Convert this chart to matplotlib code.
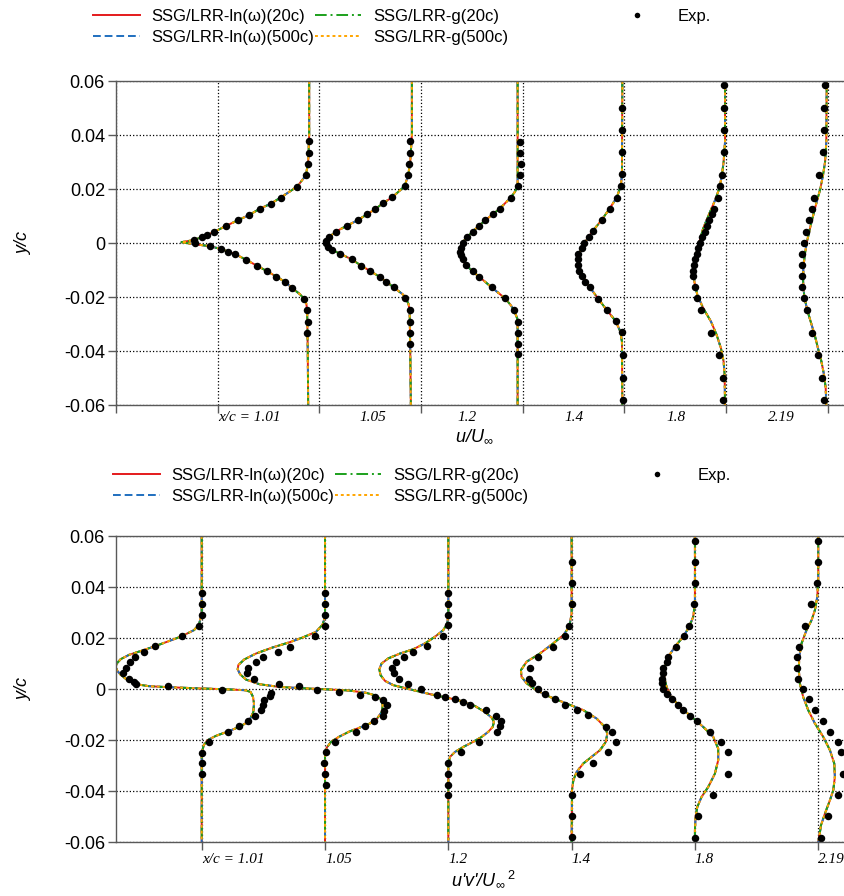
import numpy as np
import matplotlib.pyplot as plt
from matplotlib.lines import Line2D

plt.rcParams['font.family'] = ['Liberation Sans', 'DejaVu Sans']
plt.rcParams['mathtext.fontset'] = 'custom'
plt.rcParams['mathtext.rm'] = 'Liberation Sans'
plt.rcParams['mathtext.it'] = 'Liberation Sans:italic'

stations = ['x/c = 1.01', '1.05', '1.2', '1.4', '1.8', '2.19']

# ---------------- top panel: u/U_inf profiles ----------------
u_base = [1.90, 2.91, 3.95, 4.98, 5.99, 6.99]   # grid position of u/U_inf = 1
u_label_pos = [1.31, 2.53, 3.45, 4.50, 5.51, 6.54]

u_cfd_101_y = [0.06, 0.04, 0.030, 0.0251, 0.0209, 0.0168, 0.0146, 0.0127, 0.0104, 0.0084, 0.0063, 0.0041, 0.0021,
               0.0010, 0.0003, -0.0004, -0.0011, -0.0022, -0.0032, -0.0041, -0.0062, -0.0084, -0.0105, -0.0125,
               -0.0144, -0.0168, -0.0190, -0.0207, -0.0225, -0.0249, -0.03, -0.04, -0.06]
u_cfd_101 = [1.0, 1.0, 0.995, 0.984, 0.941, 0.859, 0.812, 0.758, 0.705, 0.649, 0.590, 0.533, 0.471,
             0.425, 0.372, 0.430, 0.505, 0.566, 0.602, 0.636, 0.689, 0.743, 0.794, 0.840,
             0.881, 0.918, 0.955, 0.975, 0.986, 0.990, 0.991, 0.993, 0.995]
u_exp_101_y = [0.0377, 0.0334, 0.0293, 0.0251, 0.0209, 0.0168, 0.0146, 0.0127, 0.0104, 0.0084, 0.0063, 0.0041,
               0.0031, 0.0021, 0.0011, -0.0001, -0.0011, -0.0022, -0.0032, -0.0041, -0.0062, -0.0084, -0.0105,
               -0.0125, -0.0144, -0.0168, -0.0207, -0.0249, -0.0291, -0.0333]
u_exp_101 = [0.999, 0.999, 0.992, 0.984, 0.941, 0.859, 0.812, 0.758, 0.705, 0.649, 0.590, 0.533,
             0.499, 0.471, 0.435, 0.438, 0.512, 0.566, 0.602, 0.636, 0.689, 0.743, 0.794,
             0.839, 0.881, 0.916, 0.974, 0.990, 0.992, 0.990]

u_cfd_105_y = [0.06, 0.04, 0.030, 0.0252, 0.0210, 0.0169, 0.0147, 0.0126, 0.0106, 0.0084, 0.0064, 0.0042, 0.0022,
               0.0009, -0.0003, -0.0015, -0.0025, -0.0040, -0.0061, -0.0084, -0.0104, -0.0125, -0.0143, -0.0164,
               -0.0190, -0.0205, -0.0225, -0.0249, -0.03, -0.04, -0.06]
u_cfd_105 = [1.0, 1.0, 0.992, 0.982, 0.964, 0.903, 0.857, 0.821, 0.779, 0.733, 0.680, 0.626, 0.593,
             0.577, 0.572, 0.589, 0.605, 0.648, 0.705, 0.751, 0.795, 0.841, 0.874, 0.910,
             0.955, 0.970, 0.983, 0.989, 0.990, 0.992, 0.995]
u_exp_105_y = [0.0378, 0.0333, 0.0291, 0.0252, 0.0210, 0.0169, 0.0147, 0.0126, 0.0106, 0.0084, 0.0064, 0.0042,
               0.0022, 0.0009, -0.0001, -0.0015, -0.0025, -0.0040, -0.0061, -0.0084, -0.0104, -0.0125, -0.0143,
               -0.0164, -0.0205, -0.0249, -0.0291, -0.0332, -0.0373]
u_exp_105 = [0.989, 0.989, 0.985, 0.982, 0.964, 0.903, 0.857, 0.821, 0.779, 0.733, 0.680, 0.626,
             0.593, 0.577, 0.579, 0.589, 0.605, 0.648, 0.705, 0.751, 0.795, 0.841, 0.874,
             0.910, 0.967, 0.989, 0.989, 0.992, 0.989]

u_cfd_12_y = [0.06, 0.0252, 0.0210, 0.0190, 0.0168, 0.0147, 0.0126, 0.0106, 0.0084, 0.0063, 0.0042, 0.0021, 0.0,
              -0.0020, -0.0038, -0.0059, -0.0081, -0.0104, -0.0125, -0.0164, -0.0205, -0.0230, -0.0249, -0.0279,
              -0.0316, -0.06]
u_cfd_12 = [1.0, 1.0, 1.0, 0.987, 0.966, 0.938, 0.910, 0.877, 0.841, 0.808, 0.779, 0.749, 0.728,
            0.716, 0.713, 0.725, 0.746, 0.777, 0.811, 0.872, 0.938, 0.966, 0.982, 0.998,
            1.0, 1.0]
u_exp_12_y = [0.0375, 0.0333, 0.0291, 0.0252, 0.0210, 0.0168, 0.0126, 0.0106, 0.0084, 0.0063, 0.0042, 0.0021,
              0.0, -0.0020, -0.0032, -0.0044, -0.0059, -0.0081, -0.0104, -0.0125, -0.0164, -0.0205, -0.0249,
              -0.0291, -0.0332, -0.0373, -0.0412]
u_exp_12 = [1.011, 1.011, 1.015, 1.011, 1.003, 0.969, 0.913, 0.880, 0.841, 0.811, 0.782, 0.749,
            0.730, 0.720, 0.716, 0.721, 0.730, 0.746, 0.779, 0.811, 0.872, 0.938, 0.982,
            1.003, 1.003, 1.003, 1.003]

u_cfd_14_y = [0.06, 0.0252, 0.0210, 0.0168, 0.0126, 0.0084, 0.0044, 0.0005, -0.0032, -0.0063, -0.0094, -0.0125,
              -0.0168, -0.0205, -0.0248, -0.0289, -0.0328, -0.0365, -0.06]
u_cfd_14 = [1.0, 0.998, 0.992, 0.972, 0.936, 0.897, 0.854, 0.818, 0.792, 0.782, 0.789, 0.808,
            0.844, 0.880, 0.923, 0.967, 0.990, 0.998, 1.0]
u_exp_14_y = [0.0501, 0.0419, 0.0336, 0.0254, 0.0210, 0.0168, 0.0126, 0.0084, 0.0044, 0.0022, 0.0001, -0.0020,
              -0.0041, -0.0061, -0.0081, -0.0102, -0.0123, -0.0143, -0.0164, -0.0207, -0.0248, -0.0289, -0.0331,
              -0.0415, -0.0499, -0.0581]
u_exp_14 = [1.0, 1.0, 1.0, 1.0, 0.992, 0.972, 0.939, 0.902, 0.854, 0.834, 0.813, 0.800,
            0.784, 0.780, 0.780, 0.787, 0.800, 0.816, 0.841, 0.882, 0.923, 0.967, 0.997,
            1.005, 1.005, 1.003]

u_cfd_18_y = [0.06, 0.0375, 0.0301, 0.0252, 0.0202, 0.0153, 0.0104, 0.0055, 0.0005, -0.0044, -0.0094, -0.0143,
              -0.0193, -0.0242, -0.0291, -0.0341, -0.0390, -0.0439, -0.0489, -0.06]
u_cfd_18 = [1.0, 1.0, 0.993, 0.985, 0.972, 0.948, 0.920, 0.893, 0.874, 0.857, 0.848, 0.849,
            0.864, 0.893, 0.931, 0.959, 0.980, 0.993, 0.998, 1.0]
u_exp_18_y = [0.0585, 0.0501, 0.0419, 0.0336, 0.0252, 0.0210, 0.0168, 0.0126, 0.0106, 0.0084, 0.0063, 0.0042,
              0.0021, 0.0, -0.0020, -0.0041, -0.0061, -0.0081, -0.0102, -0.0123, -0.0164, -0.0205, -0.0249,
              -0.0332, -0.0415, -0.0499, -0.0581]
u_exp_18 = [0.993, 0.993, 0.993, 0.993, 0.985, 0.977, 0.964, 0.944, 0.936, 0.923, 0.911, 0.902,
            0.887, 0.877, 0.869, 0.861, 0.851, 0.846, 0.844, 0.844, 0.851, 0.862, 0.884,
            0.931, 0.972, 0.992, 0.992]

u_cfd_219_y = [0.06, 0.0375, 0.0301, 0.0252, 0.0202, 0.0153, 0.0104, 0.0055, 0.0005, -0.0044, -0.0094, -0.0143,
               -0.0193, -0.0242, -0.0291, -0.0341, -0.0390, -0.0439, -0.0489, -0.0538, -0.06]
u_cfd_219 = [1.0, 0.998, 0.992, 0.982, 0.969, 0.951, 0.934, 0.918, 0.903, 0.892, 0.885, 0.884,
             0.889, 0.902, 0.921, 0.941, 0.957, 0.974, 0.987, 0.995, 0.998]
u_exp_219_y = [0.0585, 0.0501, 0.0419, 0.0336, 0.0252, 0.0168, 0.0126, 0.0084, 0.0042, 0.0, -0.0041, -0.0081,
               -0.0123, -0.0164, -0.0205, -0.0249, -0.0332, -0.0415, -0.0499, -0.0581]
u_exp_219 = [0.990, 0.987, 0.985, 0.980, 0.964, 0.939, 0.926, 0.913, 0.900, 0.887, 0.880, 0.877,
             0.877, 0.880, 0.890, 0.903, 0.930, 0.959, 0.979, 0.987]

# ---------------- bottom panel: u'v'/U_inf^2 profiles ----------------
uv_base = [1, 2, 3, 4, 5, 6]   # grid position of u'v' = 0

uv_cfd_101_y = [0.06, 0.0296, 0.0253, 0.0231, 0.0207, 0.0188, 0.0168, 0.0151, 0.0134, 0.0117, 0.0100, 0.0087,
                0.0071, 0.0056, 0.0035, 0.0019, 0.0011, 0.0007, 0.0002, -0.0001, -0.0005, -0.0012, -0.0031,
                -0.0057, -0.0090, -0.0113, -0.0132, -0.0149, -0.0166, -0.0184, -0.0201, -0.0221, -0.0253, -0.06]
uv_cfd_101 = [0.0, 0.0, -0.00022, -0.00062, -0.00162, -0.00265, -0.00378, -0.00481, -0.00589, -0.00657, -0.00689,
              -0.00698, -0.00684, -0.00657, -0.00603, -0.00535, -0.00427, -0.00265, 0.0, 0.00195, 0.00357, 0.00397,
              0.00416, 0.00424, 0.00419, 0.00397, 0.00365, 0.00303, 0.00216, 0.00114, 0.00046, 0.00016, 0.0, 0.0]
uv_exp_101_y = [0.0375, 0.0333, 0.0291, 0.0248, 0.0207, 0.0167, 0.0145, 0.0125, 0.0104, 0.0083, 0.0061, 0.0041,
                0.0026, 0.0019, 0.0011, -0.0002, -0.0015, -0.0027, -0.0044, -0.0063, -0.0083, -0.0104, -0.0126,
                -0.0146, -0.0167, -0.0207, -0.0251, -0.0291, -0.0333]
uv_exp_101 = [0.0, 0.0, 0.0, -0.00024, -0.00162, -0.00378, -0.00470, -0.00543, -0.00584, -0.00616, -0.00638,
              -0.00589, -0.00549, -0.00530, -0.00273, 0.00162, 0.00565, 0.00552, 0.00506, 0.00495, 0.00481,
              0.00433, 0.00373, 0.00303, 0.00216, 0.00059, 0.0, 0.0, 0.0]

uv_cfd_105_y = [0.06, 0.0283, 0.0253, 0.0224, 0.0202, 0.0183, 0.0163, 0.0139, 0.0116, 0.0094, 0.0077, 0.0058,
                0.0037, 0.0019, 0.0008, 0.0003, -0.0001, -0.0006, -0.0015, -0.0026, -0.0041, -0.0063, -0.0090,
                -0.0116, -0.0135, -0.0151, -0.0167, -0.0188, -0.0207, -0.0230, -0.0266, -0.06]
uv_cfd_105 = [0.0, 0.0, -0.00019, -0.00073, -0.00181, -0.00289, -0.00424, -0.00560, -0.00654, -0.00703, -0.00708,
              -0.00689, -0.00641, -0.00533, -0.00370, -0.00181, 0.0, 0.00197, 0.00333, 0.00414, 0.00454, 0.00468,
              0.00460, 0.00422, 0.00365, 0.00284, 0.00197, 0.00111, 0.00049, 0.00014, 0.0, 0.0]
uv_exp_105_y = [0.0375, 0.0332, 0.0290, 0.0249, 0.0206, 0.0166, 0.0145, 0.0124, 0.0104, 0.0083, 0.0061, 0.0041,
                0.0019, 0.0010, -0.0002, -0.0012, -0.0022, -0.0033, -0.0044, -0.0063, -0.0086, -0.0104, -0.0126,
                -0.0147, -0.0168, -0.0207, -0.0249, -0.0291, -0.0333, -0.0375]
uv_exp_105 = [0.0, 0.0, 0.0, 0.0, -0.00081, -0.00284, -0.00378, -0.00500, -0.00560, -0.00627, -0.00635,
              -0.00576, -0.00370, -0.00211, -0.00068, 0.00114, 0.00281, 0.00408, 0.00468, 0.00500, 0.00479,
              0.00470, 0.00397, 0.00327, 0.00249, 0.00084, 0.00005, -0.00008, 0.0, 0.00005]

uv_cfd_12_y = [0.06, 0.0296, 0.0257, 0.0231, 0.0205, 0.0179, 0.0156, 0.0139, 0.0120, 0.0100, 0.0077, 0.0054,
               0.0032, 0.0015, 0.0002, -0.0014, -0.0026, -0.0035, -0.0046, -0.0063, -0.0090, -0.0112, -0.0129,
               -0.0149, -0.0168, -0.0188, -0.0207, -0.0227, -0.0247, -0.0266, -0.0292, -0.06]
uv_cfd_12 = [0.0, 0.0, -0.00008, -0.00041, -0.00108, -0.00189, -0.00284, -0.00392, -0.00487, -0.00541, -0.00560,
             -0.00549, -0.00514, -0.00446, -0.00338, -0.00203, -0.00095, 0.0, 0.00095, 0.00203, 0.00297, 0.00351,
             0.00370, 0.00360, 0.00324, 0.00270, 0.00203, 0.00122, 0.00054, 0.00014, 0.0, 0.0]
uv_exp_12_y = [0.0375, 0.0333, 0.0291, 0.0251, 0.0207, 0.0168, 0.0146, 0.0124, 0.0104, 0.0084, 0.0061, 0.0041,
               0.0019, -0.0001, -0.0022, -0.0032, -0.0041, -0.0052, -0.0062, -0.0083, -0.0104, -0.0125, -0.0146,
               -0.0167, -0.0207, -0.0249, -0.0291, -0.0333, -0.0375, -0.0414]
uv_exp_12 = [0.0, 0.0, 0.0, 0.0, -0.00041, -0.00176, -0.00284, -0.00362, -0.00427, -0.00454, -0.00441,
             -0.00403, -0.00330, -0.00224, -0.00089, -0.00027, 0.00051, 0.00116, 0.00178, 0.00303, 0.00387,
             0.00427, 0.00422, 0.00397, 0.00251, 0.00100, 0.0, 0.0, 0.0, 0.0]

uv_cfd_14_y = [0.06, 0.0296, 0.0244, 0.0211, 0.0179, 0.0139, 0.0107, 0.0074, 0.0048, 0.0022, -0.0005, -0.0031,
               -0.0057, -0.0083, -0.0116, -0.0149, -0.0175, -0.0207, -0.0240, -0.0266, -0.0292, -0.0325, -0.0358,
               -0.0397, -0.06]
uv_cfd_14 = [0.0, 0.0, -0.00019, -0.00068, -0.00149, -0.00257, -0.00365, -0.00411, -0.00406, -0.00365, -0.00284,
             -0.00176, -0.00041, 0.00095, 0.00203, 0.00270, 0.00289, 0.00278, 0.00230, 0.00162, 0.00095, 0.00041,
             0.00014, 0.00003, 0.0]
uv_exp_14_y = [0.0499, 0.0417, 0.0333, 0.0249, 0.0207, 0.0166, 0.0126, 0.0084, 0.0041, 0.0022, -0.0001, -0.0020,
               -0.0041, -0.0061, -0.0083, -0.0103, -0.0149, -0.0167, -0.0207, -0.0249, -0.0292, -0.0332, -0.0417,
               -0.0499, -0.0581]
uv_exp_14 = [0.0, 0.0, 0.0, -0.00019, -0.00051, -0.00154, -0.00276, -0.00338, -0.00343, -0.00324, -0.00270,
             -0.00216, -0.00135, -0.00051, 0.00046, 0.00135, 0.00276, 0.00324, 0.00357, 0.00297, 0.00176,
             0.00068, 0.0, 0.0, 0.0]

uv_cfd_18_y = [0.06, 0.0414, 0.0336, 0.0283, 0.0244, 0.0205, 0.0166, 0.0126, 0.0087, 0.0048, 0.0008, -0.0031,
               -0.0070, -0.0109, -0.0149, -0.0188, -0.0234, -0.0279, -0.0332, -0.0384, -0.0423, -0.0463, -0.0502,
               -0.0554, -0.06]
uv_cfd_18 = [0.0, 0.0, 0.0, -0.00014, -0.00046, -0.00095, -0.00162, -0.00216, -0.00243, -0.00249, -0.00230,
             -0.00189, -0.00122, -0.00027, 0.00068, 0.00149, 0.00189, 0.00189, 0.00162, 0.00108, 0.00054,
             0.00019, 0.00005, 0.0, 0.0]
uv_exp_18_y = [0.0582, 0.0497, 0.0414, 0.0332, 0.0249, 0.0207, 0.0166, 0.0124, 0.0104, 0.0084, 0.0061, 0.0040,
               0.0022, 0.0001, -0.0020, -0.0041, -0.0062, -0.0083, -0.0104, -0.0125, -0.0167, -0.0209, -0.0249,
               -0.0334, -0.0417, -0.0499, -0.0583]
uv_exp_18 = [0.0, 0.0, 0.0, -0.00008, -0.00049, -0.00089, -0.00154, -0.00216, -0.00230, -0.00262, -0.00262,
             -0.00270, -0.00268, -0.00262, -0.00230, -0.00189, -0.00141, -0.00095, -0.00041, 0.00019, 0.00122,
             0.00211, 0.00270, 0.00265, 0.00143, 0.00024, 0.0]

uv_cfd_219_y = [0.06, 0.0427, 0.0361, 0.0309, 0.0270, 0.0231, 0.0179, 0.0126, 0.0074, 0.0022, -0.0031, -0.0083,
                -0.0135, -0.0188, -0.0240, -0.0292, -0.0345, -0.0397, -0.0436, -0.0489, -0.0535, -0.0580, -0.06]
uv_cfd_219 = [0.0, 0.0, -0.00008, -0.00027, -0.00054, -0.00095, -0.00135, -0.00154, -0.00157, -0.00149, -0.00122,
              -0.00081, -0.00027, 0.00041, 0.00095, 0.00130, 0.00135, 0.00122, 0.00095, 0.00054, 0.00022,
              0.00008, 0.0]
uv_exp_219_y = [0.0582, 0.0497, 0.0414, 0.0333, 0.0249, 0.0166, 0.0124, 0.0083, 0.0040, -0.0001, -0.0041, -0.0083,
                -0.0125, -0.0167, -0.0207, -0.0249, -0.0332, -0.0417, -0.0499, -0.0583]
uv_exp_219 = [0.0, 0.0, -0.00014, -0.00057, -0.00108, -0.00154, -0.00170, -0.00176, -0.00165, -0.00122, -0.00078,
              -0.00024, 0.00035, 0.00095, 0.00157, 0.00184, 0.00197, 0.00157, 0.00081, 0.00019]

u_cfd = [(u_cfd_101_y, u_cfd_101), (u_cfd_105_y, u_cfd_105), (u_cfd_12_y, u_cfd_12),
         (u_cfd_14_y, u_cfd_14), (u_cfd_18_y, u_cfd_18), (u_cfd_219_y, u_cfd_219)]
u_exp = [(u_exp_101_y, u_exp_101), (u_exp_105_y, u_exp_105), (u_exp_12_y, u_exp_12),
         (u_exp_14_y, u_exp_14), (u_exp_18_y, u_exp_18), (u_exp_219_y, u_exp_219)]
uv_cfd = [(uv_cfd_101_y, uv_cfd_101), (uv_cfd_105_y, uv_cfd_105), (uv_cfd_12_y, uv_cfd_12),
          (uv_cfd_14_y, uv_cfd_14), (uv_cfd_18_y, uv_cfd_18), (uv_cfd_219_y, uv_cfd_219)]
uv_exp = [(uv_exp_101_y, uv_exp_101), (uv_exp_105_y, uv_exp_105), (uv_exp_12_y, uv_exp_12),
          (uv_exp_14_y, uv_exp_14), (uv_exp_18_y, uv_exp_18), (uv_exp_219_y, uv_exp_219)]

# the four turbulence model variants (curves coincide in the figure)
models = ['SSG/LRR-ln(ω)(20c)', 'SSG/LRR-ln(ω)(500c)', 'SSG/LRR-g(20c)', 'SSG/LRR-g(500c)']
model_colors = ['#e41a1c', '#1f6fbf', '#1ca01c', '#ffa500']
model_dashes = ['-', (0, (4, 2)), (0, (6, 2, 1, 2)), (0, (1.5, 1.5))]

yticks = [-0.06, -0.04, -0.02, 0, 0.02, 0.04, 0.06]
ytick_labels = ['-0.06', '-0.04', '-0.02', '0', '0.02', '0.04', '0.06']

serif_it = dict(family='Liberation Serif', style='italic', size=11)


def draw_profiles(ax, cfd, exp, bases, gain, offset):
    for (yc, vc), (ye, ve), b in zip(cfd, exp, bases):
        for c, ls in zip(model_colors, model_dashes):
            ax.plot(b + gain * (np.array(vc) - offset), yc, color=c, ls=ls, lw=1.4)
        ax.plot(b + gain * (np.array(ve) - offset), ye, 'o', color='black', ms=5.4, mec='none')


def style_axes(ax):
    ax.set_ylim(-0.06, 0.06)
    ax.set_yticks(yticks, ytick_labels)
    ax.grid(True, which='major', ls=':', color='black', lw=0.9)
    ax.spines['right'].set_visible(False)
    for s in ['left', 'top', 'bottom']:
        ax.spines[s].set_color('0.35')
        ax.spines[s].set_linewidth(1.0)
    ax.tick_params(axis='both', which='major', direction='out', length=6, width=1, color='0.35', pad=2)
    ax.tick_params(axis='y', labelsize=13)
    ax.set_ylabel('y/c', fontsize=13, style='italic')
    ax.yaxis.set_label_coords(-0.115, 0.5)


def add_legend(fig, x0, y0):
    handles = [Line2D([], [], color=c, ls=ls, lw=1.4) for c, ls in zip(model_colors, model_dashes)]
    leg = fig.legend(handles, models, loc='upper left', bbox_to_anchor=(x0 / 844, 1 - y0 / 896),
                     ncol=2, frameon=False, fontsize=12, handlelength=2.8, handletextpad=0.72,
                     columnspacing=0.0, labelspacing=0.37, borderpad=0, borderaxespad=0)
    exp_h = Line2D([], [], ls='none', marker='o', color='black', ms=4, mec='none')
    fig.legend([exp_h], ['Exp.'], loc='upper left', bbox_to_anchor=((x0 + 521) / 844, 1 - y0 / 896),
               frameon=False, fontsize=12, handlelength=2.8, handletextpad=1.0,
               borderpad=0, borderaxespad=0)
    return leg


fig = plt.figure(figsize=(8.44, 8.96), dpi=100)
ax1 = fig.add_axes([116 / 844, 1 - 405 / 896, 728 / 844, 324 / 896])
ax2 = fig.add_axes([116 / 844, 1 - 842 / 896, 728 / 844, 306 / 896])

# top panel
draw_profiles(ax1, u_cfd, u_exp, u_base, 2.0, 1.0)
ax1.set_xlim(0, 7.16)
ax1.set_xticks(range(8), [''] * 8)
ax1.set_xticks(u_label_pos, stations, minor=True)
ax1.tick_params(axis='x', which='minor', length=0, pad=4)
for lbl in ax1.get_xticklabels(minor=True):
    lbl.set(**serif_it)
style_axes(ax1)
ax1.set_xlabel(r'u/U$_\infty$', fontsize=13, style='italic')
ax1.xaxis.set_label_coords(0.492, -0.07)

# bottom panel
draw_profiles(ax2, uv_cfd, uv_exp, uv_base, 100.0, 0.0)
ax2.set_xlim(0.305, 6.209)
ax2.set_xticks(uv_base, stations)
for lbl in ax2.get_xticklabels():
    lbl.set(ha='left', **serif_it)
style_axes(ax2)
ax2.set_xlabel("u'v'/U$_\\infty{}^{\\;2}$", fontsize=13, style='italic')
ax2.xaxis.set_label_coords(0.505, -0.085)

add_legend(fig, 93, 9)
add_legend(fig, 113, 468)

fig.savefig('out.png', dpi=100)
